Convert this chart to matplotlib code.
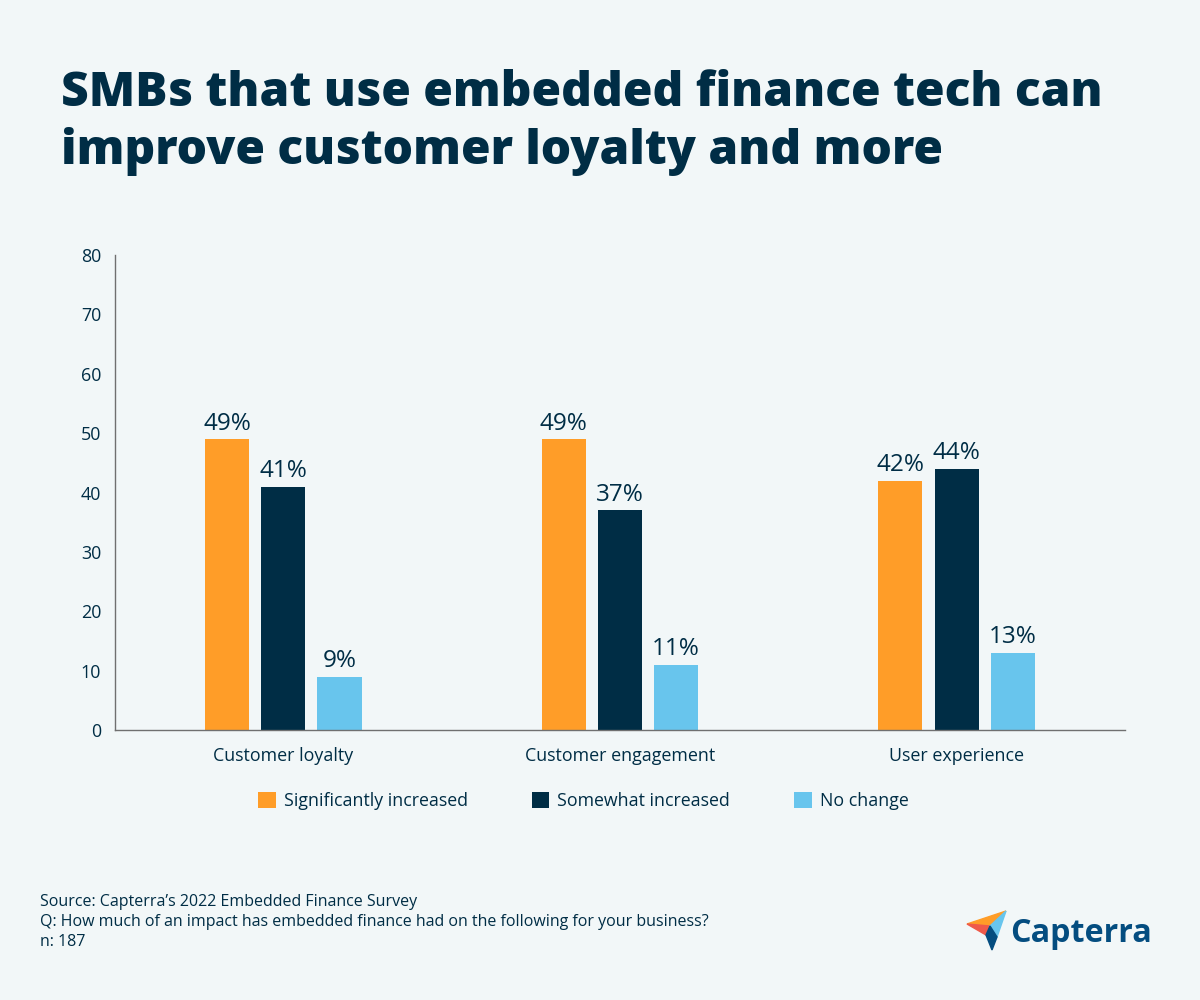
import numpy as np
import matplotlib.pyplot as plt
from matplotlib.patches import Polygon

plt.rcParams['font.family'] = ['Open Sans', 'DejaVu Sans']

categories = ["Customer loyalty", "Customer engagement", "User experience"]
series_names = ["Significantly increased", "Somewhat increased", "No change"]
significantly = [49, 49, 42]
somewhat = [41, 37, 44]
no_change = [9, 11, 13]

navy = "#002d45"
colors = ["#ff9d28", "#002d45", "#68c5ed"]
bg = "#f2f7f8"

fig = plt.figure(figsize=(12, 10), dpi=100, facecolor=bg)
ax = fig.add_axes([0.0958, 0.27, 0.8417, 0.475], facecolor=bg)

x = np.arange(len(categories))
width = 0.131
offsets = [-0.167, 0, 0.167]
for vals, off, col, name in zip([significantly, somewhat, no_change], offsets, colors, series_names):
    bars = ax.bar(x + off, vals, width, color=col, label=name, zorder=2)
    for b, v in zip(bars, vals):
        ax.text(b.get_x() + b.get_width() / 2, v + 0.6, str(v) + "%", ha="center", va="bottom",
                fontsize=17.5, color=navy)

ax.set_xlim(-0.5, 2.5)
ax.set_ylim(0, 80)
ax.set_yticks(range(0, 81, 10))
ax.set_xticks(x)
ax.set_xticklabels(categories)
ax.tick_params(axis="both", length=0, labelsize=12.9, colors=navy)
ax.tick_params(axis="x", pad=12)
ax.tick_params(axis="y", pad=10)
for s in ["top", "right"]:
    ax.spines[s].set_visible(False)
for s in ["left", "bottom"]:
    ax.spines[s].set_color("#707070")
    ax.spines[s].set_linewidth(1)

leg = fig.legend(loc="center", bbox_to_anchor=(0.486, 0.199), ncol=3, frameon=False,
                 fontsize=12.8, handlelength=1.0, handleheight=1.0, handletextpad=0.45,
                 columnspacing=3.6)
for t in leg.get_texts():
    t.set_color(navy)

fig.text(0.051, 0.93, "SMBs that use embedded finance tech can\nimprove customer loyalty and more",
         fontsize=34.5, fontweight="heavy", color=navy, va="top", ha="left", linespacing=1.24)

fig.text(0.033, 0.078, "Source: Capterra\u2019s 2022 Embedded Finance Survey\n"
         "Q: How much of an impact has embedded finance had on the following for your business?\n"
         "n: 187", fontsize=11.5, color=navy, va="center", ha="left", linespacing=1.32)

# logo (pixel coords -> figure coords)
def fc(pts):
    return [[px / 1200, 1 - py / 1000] for px, py in pts]

logo_parts = [
    ([(967, 924), (1006, 911), (990, 926)], "#ff9d28"),
    ([(967, 924), (990, 926), (986, 935)], "#ef5a4a"),
    ([(1006, 911), (990, 926), (997, 937)], "#68c5ed"),
    ([(990, 926), (986, 935), (992, 950), (997, 937)], "#044d80"),
]
for pts, col in logo_parts:
    fig.patches.append(Polygon(fc(pts), closed=True, transform=fig.transFigure, color=col))
fig.text(1010 / 1200, 0.058, "Capterra", fontsize=23.2, fontweight="bold", color="#044d80",
         va="baseline", ha="left")

fig.savefig("out.png", dpi=100, facecolor=bg)
